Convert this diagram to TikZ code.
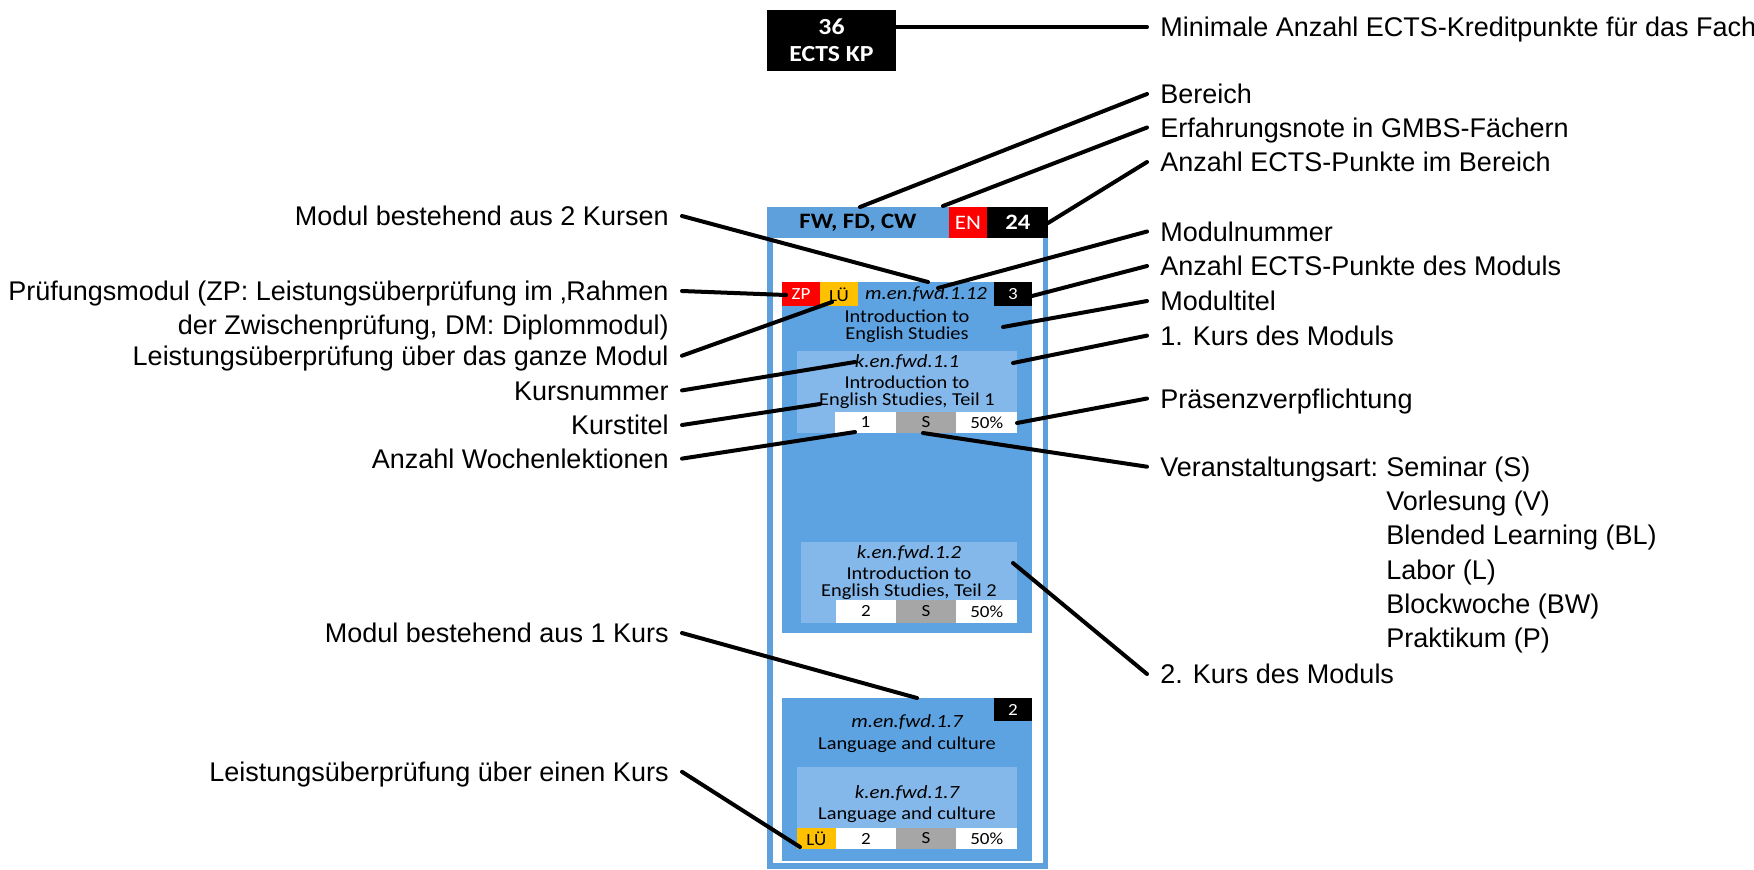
\documentclass[tikz,border=0pt]{standalone}
\usepackage{fontspec}
\setmainfont{Liberation Sans}
\newfontfamily\calibri[FakeStretch=1.12]{Carlito}
\definecolor{rahmen}{HTML}{5EA0DC}
\definecolor{modul}{HTML}{5DA3E2}
\definecolor{kurs}{HTML}{85B8EA}
\definecolor{lue}{HTML}{FFC000}
\definecolor{grau}{HTML}{A6A6A6}

\begin{document}
\begin{tikzpicture}[x=0.5pt,y=-0.5pt,
  lbl/.style={font=\fontsize{13.5}{17}\selectfont,inner xsep=6.5pt,inner ysep=0pt,text height=9.7pt,text depth=0pt},
  pointer/.style={line width=2pt,line cap=round},
  txt/.style={font=\calibri\fontsize{9.1}{8.4}\selectfont,inner sep=0pt,align=center},
  nr/.style={txt,font=\calibri\itshape\fontsize{9.3}{9}\selectfont},
  cell/.style={txt,font=\calibri\fontsize{8.5}{9}\selectfont}]
\useasboundingbox (0,0) rectangle (1754,869);

% ECTS of the subject
\fill [black] (767,10) rectangle (896,70.7);
\node [txt,text=white,font=\calibri\bfseries\fontsize{11.5}{13.5}\selectfont] (kp) at (831.5,40) {36\\ECTS KP};

% frame and header
\draw [rahmen,line width=2.75pt] (770,210) rectangle (1045.6,866.2);
\fill [rahmen] (767.3,207.3) rectangle (949,237.7);
\fill [red] (949,207.3) rectangle (987.3,237.7);
\fill [black] (987.3,207.3) rectangle (1048.3,237.7);
\node [txt,font=\calibri\bfseries\fontsize{11}{12}\selectfont] (ber) at (858,222.5) {FW, FD, CW};
\node [txt,text=white,font=\calibri\fontsize{10.3}{12}\selectfont] (en) at (968,222.5) {EN};
\node [txt,text=white,font=\calibri\bfseries\fontsize{11}{12}\selectfont] (kpb) at (1017.8,222.5) {24};

% module with 2 courses
\fill [modul] (782,282.3) rectangle (1031.7,633.3);
\fill [red] (782,282.3) rectangle (820,306);
\fill [lue] (820,282.3) rectangle (858,306);
\fill [black] (994,282.3) rectangle (1031.7,305.7);
\node [cell,text=white] (zp1) at (801,294.5) {ZP};
\node [cell] (lue1) at (839,294.5) {LÜ};
\node [nr] (mnr1) at (926,294.5) {m.en.fwd.1.12};
\node [cell,text=white] (kpm1) at (1013,294.5) {3};
\node [txt] (mtit1) at (907,326) {Introduction to\\English Studies};

\fill [kurs] (796.7,351) rectangle (1017.3,433.3);
\fill [white] (835,411.7) rectangle (896,433.3);
\fill [grau] (896,411.7) rectangle (956,433.3);
\fill [white] (956,411.7) rectangle (1017.3,433.3);
\node [nr] (knr1) at (907,362) {k.en.fwd.1.1};
\node [txt] (ktit1) at (907,392.5) {Introduction to\\English Studies, Teil 1};
\node [cell] (wl1) at (865.5,422.5) {1};
\node [cell] (art1) at (926,422.5) {S};
\node [cell] (pr1) at (986.7,422.5) {50\%};

\fill [kurs] (800.7,541.7) rectangle (1017.3,622.7);
\fill [white] (836,600) rectangle (896,622.7);
\fill [grau] (896,600) rectangle (956,622.7);
\fill [white] (956,600) rectangle (1017.3,622.7);
\node [nr] (knr2) at (909,553) {k.en.fwd.1.2};
\node [txt] (ktit2) at (909,583) {Introduction to\\English Studies, Teil 2};
\node [cell] (wl2) at (866,611.3) {2};
\node [cell] (art2) at (926,611.3) {S};
\node [cell] (pr2) at (986.7,611.3) {50\%};

% module with 1 course
\fill [modul] (782,698.3) rectangle (1031.7,860.7);
\fill [black] (994,698.3) rectangle (1031.7,720.7);
\node [cell,text=white] (kpm2) at (1013,709.5) {2};
\node [nr] (mnr2) at (907,722) {m.en.fwd.1.7};
\node [txt] (mtit2) at (907,744.5) {Language and culture};

\fill [kurs] (796.7,766.7) rectangle (1017.3,849.3);
\fill [lue] (796.7,827.7) rectangle (836,849.3);
\fill [white] (836,827.7) rectangle (896,849.3);
\fill [grau] (896,827.7) rectangle (956,849.3);
\fill [white] (956,827.7) rectangle (1017.3,849.3);
\node [nr] (knr3) at (907,793) {k.en.fwd.1.7};
\node [txt] (ktit3) at (907,815) {Language and culture};
\node [cell] (lue3) at (816.3,838.5) {LÜ};
\node [cell] (wl3) at (866,838.5) {2};
\node [cell] (art3) at (926,838.5) {S};
\node [cell] (pr3) at (986.7,838.5) {50\%};

% labels right
\node [lbl,anchor=west] (lMin) at (1147,27) {Minimale Anzahl ECTS-Kreditpunkte für das Fach};
\node [lbl,anchor=west] (lBer) at (1147,94) {Bereich};
\node [lbl,anchor=west] (lErf) at (1147,127.5) {Erfahrungsnote in GMBS-Fächern};
\node [lbl,anchor=west] (lKPB) at (1147,162) {Anzahl ECTS-Punkte im Bereich};
\node [lbl,anchor=west] (lMNr) at (1147,231.5) {Modulnummer};
\node [lbl,anchor=west] (lKPM) at (1147,266) {Anzahl ECTS-Punkte des Moduls};
\node [lbl,anchor=west] (lMTit) at (1147,301) {Modultitel};
\node [lbl,anchor=west] (lK1) at (1147,335.6) {1. Kurs des Moduls};
\node [lbl,anchor=west] (lPraes) at (1147,398.5) {Präsenzverpflichtung};
\node [lbl,anchor=west] (lArt) at (1147,466.7) {Veranstaltungsart:};
\node [lbl,anchor=west] (lS) at (1373,466.7) {Seminar (S)};
\node [lbl,anchor=west] (lV) at (1373,500.9) {Vorlesung (V)};
\node [lbl,anchor=west] (lBL) at (1373,535.1) {Blended Learning (BL)};
\node [lbl,anchor=west] (lL) at (1373,569.3) {Labor (L)};
\node [lbl,anchor=west] (lBW) at (1373,603.5) {Blockwoche (BW)};
\node [lbl,anchor=west] (lP) at (1373,637.7) {Praktikum (P)};
\node [lbl,anchor=west] (lK2) at (1147,674) {2. Kurs des Moduls};

% labels left
\node [lbl,anchor=east] (lMod2) at (682,216) {Modul bestehend aus 2 Kursen};
\node [lbl,anchor=east] (lPruef) at (682,291) {Prüfungsmodul (ZP: Leistungsüberprüfung im ‚Rahmen};
\node [lbl,anchor=east] (lPruefb) at (682,324.4) {der Zwischenprüfung, DM: Diplommodul)};
\node [lbl,anchor=east] (lLUeM) at (682,355.7) {Leistungsüberprüfung über das ganze Modul};
\node [lbl,anchor=east] (lKNr) at (682,390.4) {Kursnummer};
\node [lbl,anchor=east] (lKTit) at (682,425) {Kurstitel};
\node [lbl,anchor=east] (lWL) at (682,458.6) {Anzahl Wochenlektionen};
\node [lbl,anchor=east] (lMod1) at (682,633) {Modul bestehend aus 1 Kurs};
\node [lbl,anchor=east] (lLUeK) at (682,771.8) {Leistungsüberprüfung über einen Kurs};

% pointer ends
\coordinate (pMin) at (896,27);
\coordinate (pBer) at (860,207);
\coordinate (pErf) at (943,206);
\coordinate (pKPB) at (1048,223);
\coordinate (pMNr) at (938,288);
\coordinate (pKPM) at (1032,296);
\coordinate (pMTit) at (1003,327);
\coordinate (pK1) at (1013,363);
\coordinate (pPraes) at (1017,423);
\coordinate (pArt) at (923,433);
\coordinate (pK2) at (1013,563);
\coordinate (pMod2) at (928,282);
\coordinate (pPruef) at (786,295);
\coordinate (pLUeM) at (832,302);
\coordinate (pKNr) at (855,362);
\coordinate (pKTit) at (820,404);
\coordinate (pWL) at (855,432);
\coordinate (pMod1) at (917,698);
\coordinate (pLUeK) at (800,847);

\draw [pointer] (pMin) -- (lMin.west);
\draw [pointer] (pBer) -- (lBer.west);
\draw [pointer] (pErf) -- (lErf.west);
\draw [pointer] (pKPB) -- (lKPB.west);
\draw [pointer] (pMNr) -- (lMNr.west);
\draw [pointer] (pKPM) -- (lKPM.west);
\draw [pointer] (pMTit) -- (lMTit.west);
\draw [pointer] (pK1) -- (lK1.west);
\draw [pointer] (pPraes) -- (lPraes.west);
\draw [pointer] (pArt) -- (lArt.west);
\draw [pointer] (pK2) -- (lK2.west);
\draw [pointer] (lMod2.east) -- (pMod2);
\draw [pointer] (lPruef.east) -- (pPruef);
\draw [pointer] (lLUeM.east) -- (pLUeM);
\draw [pointer] (lKNr.east) -- (pKNr);
\draw [pointer] (lKTit.east) -- (pKTit);
\draw [pointer] (lWL.east) -- (pWL);
\draw [pointer] (lMod1.east) -- (pMod1);
\draw [pointer] (lLUeK.east) -- (pLUeK);
\end{tikzpicture}
\end{document}
